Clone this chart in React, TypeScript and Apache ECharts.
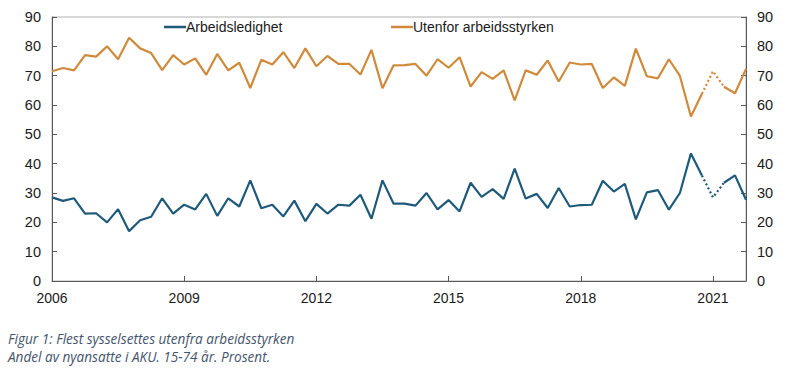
import React, { useEffect, useRef } from "react";
import * as echarts from "echarts";

const years = Array.from({ length: 16 }, (_, i) => 2006 + i);
const categories: string[] = [];
years.forEach((y) => ["K1", "K2", "K3", "K4"].forEach((q) => categories.push(`${y}${q}`)));

const arbeidsledighet = [
  28.5, 27.3, 28.2, 23.0, 23.1, 20.0, 24.5, 17.0, 20.7, 21.9, 28.2, 23.0, 26.0, 24.4, 29.7, 22.2,
  28.2, 25.4, 34.3, 24.8, 26.0, 22.0, 27.4, 20.4, 26.3, 23.0, 26.0, 25.7, 29.4, 21.2, 34.3, 26.4,
  26.4, 25.7, 30.0, 24.4, 27.6, 23.7, 33.5, 28.7, 31.3, 28.0, 38.3, 28.1, 29.7, 24.9, 31.7, 25.4,
  25.9, 26.0, 34.2, 30.5, 33.1, 21.0, 30.2, 31.0, 24.3, 30.0, 43.5, 36.0, 28.5, 33.5, 36.0, 27.7,
];

const utenfor = [
  71.5, 72.6, 71.8, 77.0, 76.5, 80.0, 75.6, 82.9, 79.3, 77.7, 71.9, 77.0, 73.8, 75.9, 70.3, 77.4,
  71.8, 74.4, 65.8, 75.4, 73.8, 78.0, 72.6, 79.3, 73.2, 76.7, 74.0, 74.0, 70.4, 78.8, 65.7, 73.5,
  73.6, 74.0, 70.0, 75.6, 72.7, 76.3, 66.3, 71.2, 68.9, 71.8, 61.6, 71.8, 70.3, 75.2, 68.0, 74.5,
  73.8, 74.0, 65.8, 69.4, 66.5, 79.2, 69.8, 69.1, 75.6, 69.9, 56.1, 63.8, 71.5, 66.2, 64.0, 72.3,
];

// Quarters drawn dotted (index range)
const dottedStart = 59;
const dottedEnd = 61;

const yTicks = [0, 10, 20, 30, 40, 50, 60, 70, 80, 90];
const labelYears = [2006, 2009, 2012, 2015, 2018, 2021];

const BLUE = "#1F5A7B";
const ORANGE = "#D08A3B";
const AXIS = "#595959";

function solidPart(arr: number[]) {
  return arr.map((v, i) => (i > dottedStart && i < dottedEnd ? null : v));
}
function dottedPart(arr: number[]) {
  return arr.map((v, i) => (i >= dottedStart && i <= dottedEnd ? v : null));
}

const isLabelIdx = (i: number) => {
  const c = categories[i];
  return c.endsWith("K1") && labelYears.includes(parseInt(c.slice(0, 4), 10));
};

export default function App() {
  const ref = useRef<HTMLDivElement>(null);
  useEffect(() => {
    document.body.style.margin = "0";
    if (!ref.current) return;
    const chart = echarts.init(ref.current, undefined, { renderer: "svg" });
    const font = "Liberation Sans, Arial, sans-serif";
    const yAxisBase = {
      type: "value" as const,
      min: yTicks[0],
      max: yTicks[yTicks.length - 1],
      interval: 10,
      splitLine: { show: false },
      axisLine: { show: true, lineStyle: { color: AXIS, width: 1 } },
      axisTick: { show: true, inside: true, length: 5, lineStyle: { color: AXIS } },
      axisLabel: { color: "#1a1a1a", fontSize: 14.5, fontFamily: font, margin: 11 },
    };
    const legendBase = {
      top: 20,
      padding: 0,
      icon: "rect",
      itemWidth: 22,
      itemHeight: 2.5,
      textStyle: { fontSize: 14, fontFamily: font, color: "#1a1a1a", padding: [0, 0, 0, -5] },
    };
    chart.setOption({
      animation: false,
      backgroundColor: "#ffffff",
      grid: {
        left: 52,
        right: 40,
        top: 17,
        bottom: 91,
        show: true,
        borderColor: "#b0b0b0",
        borderWidth: 1,
      },
      legend: [
        { ...legendBase, data: ["Arbeidsledighet"], left: 164 },
        { ...legendBase, data: ["Utenfor arbeidsstyrken"], left: 391 },
      ],
      xAxis: {
        type: "category",
        data: categories,
        boundaryGap: false,
        axisLine: { show: true, lineStyle: { color: AXIS, width: 1 } },
        axisTick: {
          show: true,
          inside: true,
          length: 5,
          alignWithLabel: true,
          interval: (i: number) => isLabelIdx(i),
          lineStyle: { color: AXIS },
        },
        axisLabel: {
          interval: (i: number) => isLabelIdx(i),
          formatter: (v: string) => v.slice(0, 4),
          color: "#1a1a1a",
          fontSize: 14,
          fontFamily: font,
          margin: 10,
        },
        splitLine: { show: false },
      },
      yAxis: [
        { ...yAxisBase, position: "left" },
        { ...yAxisBase, position: "right" },
      ],
      graphic: [
        {
          type: "text",
          left: 8,
          top: 331,
          style: {
            text: "Figur 1: Flest sysselsettes utenfra arbeidsstyrken",
            font: "italic 13.6px 'Open Sans', sans-serif",
            fill: "#44546A",
          },
        },
        {
          type: "text",
          left: 8,
          top: 349,
          style: {
            text: "Andel av nyansatte i AKU. 15-74 år. Prosent.",
            font: "italic 13.6px 'Open Sans', sans-serif",
            fill: "#44546A",
          },
        },
      ],
      series: [
        {
          name: "Arbeidsledighet",
          type: "line",
          data: solidPart(arbeidsledighet),
          symbol: "none",
          connectNulls: false,
          lineStyle: { color: BLUE, width: 2.2 },
          itemStyle: { color: BLUE },
        },
        {
          name: "Arbeidsledighet",
          type: "line",
          data: dottedPart(arbeidsledighet),
          symbol: "none",
          lineStyle: { color: BLUE, width: 2.2, type: [2, 2.5] },
          itemStyle: { color: BLUE },
        },
        {
          name: "Utenfor arbeidsstyrken",
          type: "line",
          data: solidPart(utenfor),
          symbol: "none",
          connectNulls: false,
          lineStyle: { color: ORANGE, width: 2.2 },
          itemStyle: { color: ORANGE },
        },
        {
          name: "Utenfor arbeidsstyrken",
          type: "line",
          data: dottedPart(utenfor),
          symbol: "none",
          lineStyle: { color: ORANGE, width: 2.2, type: [2, 2.5] },
          itemStyle: { color: ORANGE },
        },
      ],
    });
    return () => chart.dispose();
  }, []);
  return <div ref={ref} style={{ width: 786, height: 372, background: "#fff" }} />;
}
